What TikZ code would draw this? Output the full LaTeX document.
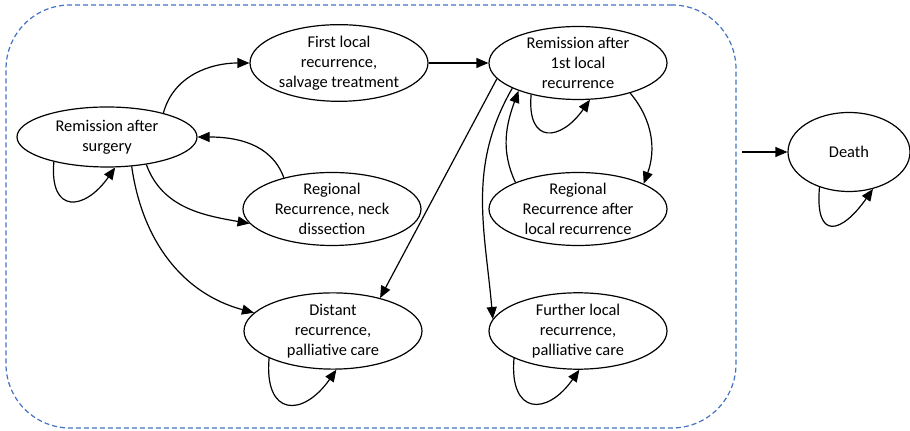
\documentclass[tikz,border=0pt]{standalone}
\usepackage{fontspec}
\setmainfont{Carlito}
\usetikzlibrary{arrows.meta,shapes.geometric}
\definecolor{boxblue}{HTML}{4472C4}
\tikzset{
  state/.style={draw, ellipse, line width=0.6pt, inner sep=0pt,
    minimum width=89pt, minimum height=36.5pt, align=center,
    font=\fontsize{8.2}{10}\selectfont},
  selfloop/.style={out=-95, in=-125, looseness=2.2},
}
\begin{document}
\begin{tikzpicture}[x=0.5pt, y=-0.5pt]
      \useasboundingbox (0,0) rectangle (910,431);
      \node[draw=boxblue, line width=0.6pt, dash pattern=on 2.5pt off 1.5pt,
        rounded corners=32pt, minimum width=365pt, minimum height=211.5pt]
        (alive) at (371,216.5) {};
      \path
        (107,137) node[state, minimum width=90pt, minimum height=30pt] (rs) {Remission after\\surgery}
        (339,63) node[state] (fl) {First local\\recurrence,\\salvage treatment}
        (578,63) node[state] (r1) {Remission after\\1st local\\recurrence}
        (332,209) node[state] (rn) {Regional\\Recurrence, neck\\dissection}
        (578,209) node[state] (rl) {Regional\\Recurrence after\\local recurrence}
        (333,331) node[state] (dr) {Distant\\recurrence,\\palliative care}
        (578,331) node[state] (fr) {Further local\\recurrence,\\palliative care}
        (849,152) node[state, minimum width=61pt, minimum height=39.5pt] (death) {Death};
      \coordinate (exit) at (742,152);
      \begin{scope}[-{Triangle[length=6pt,width=5pt]}, line width=0.6pt]
        \draw (rs.23) to[out=75, in=180] (fl.west);
        \draw (fl.east) to (r1.west);
        \draw (rn.147) to[out=110, in=0] (rs.east);
        \draw (rs.-35) to[out=-70, in=170] (rn.190);
        \draw (rs.-50) to[out=-82, in=165] (dr.167);
        \draw (r1.191) to (dr.35);
        \draw (r1.201) to[out=240, in=95] (fr.172);
        \draw (rl.157) to[out=115, in=250] (r1.205);
        \draw (r1.-30) to[out=-50, in=70] (rl.21);
        \draw (exit) to (death.west);
        \draw (rs.205) to[selfloop] (rs.285);
        \draw (r1.214) to[selfloop] (r1.288);
        \draw (dr.203) to[selfloop] (dr.275);
        \draw (fr.203) to[selfloop] (fr.272);
        \draw (death.230) to[selfloop, looseness=2.6] (death.303);
      \end{scope}
    \end{tikzpicture}
\end{document}
